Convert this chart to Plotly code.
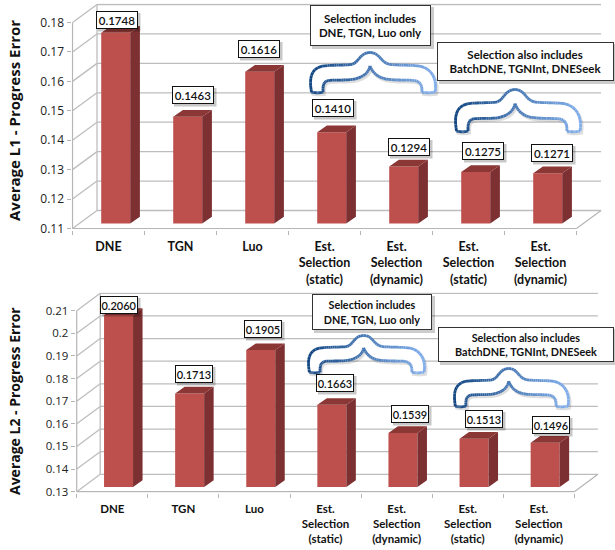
import plotly.graph_objects as go

W, H = 615, 550

# ---------- data ----------
categories = ["DNE", "TGN", "Luo",
              "Est.<br>Selection<br>(static)", "Est.<br>Selection<br>(dynamic)",
              "Est.<br>Selection<br>(static)", "Est.<br>Selection<br>(dynamic)"]
l1_values = [0.1748, 0.1463, 0.1616, 0.1410, 0.1294, 0.1275, 0.1271]
l2_values = [0.2060, 0.1713, 0.1905, 0.1663, 0.1539, 0.1513, 0.1496]
l1_labels = ["0.1748", "0.1463", "0.1616", "0.1410", "0.1294", "0.1275", "0.1271"]
l2_labels = ["0.2060", "0.1713", "0.1905", "0.1663", "0.1539", "0.1513", "0.1496"]
l1_ticks = [0.11, 0.12, 0.13, 0.14, 0.15, 0.16, 0.17, 0.18]
l2_ticks = [0.13, 0.14, 0.15, 0.16, 0.17, 0.18, 0.19, 0.20, 0.21]
l1_ticktext = ["0.11", "0.12", "0.13", "0.14", "0.15", "0.16", "0.17", "0.18"]
l2_ticktext = ["0.13", "0.14", "0.15", "0.16", "0.17", "0.18", "0.19", "0.2", "0.21"]

# ---------- styles ----------
FRONT, SIDE, TOP = "#BD4F4C", "#7C3031", "#8B3735"
GRID, EDGE = "#BDBDBD", "#B5B5B5"
TICKFONT = "Open Sans"
LABELFONT = "Lato"

fig = go.Figure()
shapes, annotations = [], []


def px_x(x):
    return x / W


def px_y(y):
    return 1 - y / H


def panel(n, values, labels, ticks, ticktext, title, g):
    xn, yn = f"x{'' if n == 1 else n}", f"y{'' if n == 1 else n}"
    xa, ya = f"xaxis{'' if n == 1 else n}", f"yaxis{'' if n == 1 else n}"
    scx = g["cat_w"]
    scy = g["unit"]
    ux = lambda p: p / scx
    uy = lambda p: p / scy
    base = ticks[0]
    top_tick = ticks[-1]
    wall_x, wall_y = ux(g["wall_dx"]), uy(g["wall_dy"])
    ncat = len(categories)
    pad = 1.0
    x_lo, x_hi = -ux(pad), ncat + wall_x + ux(pad)
    y_lo, y_hi = base - uy(pad), top_tick + wall_y + uy(pad)
    x_left_px = g["x0"] - pad
    x_right_px = g["x0"] + (ncat * scx) + g["wall_dx"] + pad
    y_bot_px = g["y0"] + pad
    y_top_px = g["y0"] - (top_tick - base) * scy - g["wall_dy"] - pad

    def line(x0, y0, x1, y1, color=GRID, width=1.3, layer="below"):
        shapes.append(dict(type="line", xref=xn, yref=yn, x0=x0, y0=y0, x1=x1, y1=y1,
                           layer=layer, line=dict(color=color, width=width)))

    # walls and floor
    for t in ticks:
        line(0, t, wall_x, t + wall_y)
        line(wall_x, t + wall_y, ncat + wall_x, t + wall_y)
    line(wall_x, base + wall_y, wall_x, top_tick + wall_y)
    line(0, base, 0, top_tick, EDGE, 1.2)
    line(0, base, ncat, base, EDGE, 1.2)
    line(ncat, base, ncat + wall_x, base + wall_y, EDGE, 1.2)

    # bars
    centers = [i + 0.5 + ux(g["bar_dx"]) for i in range(ncat)]
    half = ux(g["bar_w"]) / 2
    bot = base + uy(g["bar_dy"])
    tops = [v + uy(g["bar_dy"]) for v in values]
    fig.add_trace(go.Bar(x=centers, y=[v - base for v in values], base=bot,
                         width=ux(g["bar_w"]), marker=dict(color=FRONT, line=dict(width=0)),
                         xaxis=xn, yaxis=yn, showlegend=False,
                         customdata=labels, hovertemplate="%{customdata}<extra></extra>"))
    dxs, dys = ux(g["depth_x"]), uy(g["depth_y"])
    sx, sy, tx, ty = [], [], [], []
    for c, v in zip(centers, tops):
        r, l = c + half, c - half
        sx += [r, r + dxs, r + dxs, r, r, None]
        sy += [bot, bot + dys, v + dys, v, bot, None]
        tx += [l, r, r + dxs, l + dxs, l, None]
        ty += [v, v, v + dys, v + dys, v, None]
    for xs, ys, col in ((sx, sy, SIDE), (tx, ty, TOP)):
        fig.add_trace(go.Scatter(x=xs, y=ys, mode="lines", fill="toself", fillcolor=col,
                                 line=dict(width=0, color=col), xaxis=xn, yaxis=yn,
                                 showlegend=False, hoverinfo="skip"))

    fig.update_layout({
        xa: dict(domain=[px_x(x_left_px), px_x(x_right_px)], range=[x_lo, x_hi], anchor=yn,
                 automargin=False,
                 tickmode="array", tickvals=[i + 0.5 for i in range(ncat)], ticktext=categories,
                 ticks="", showgrid=False, zeroline=False, showline=False,
                 tickfont=dict(family=LABELFONT, size=g["xfont"], color="#111111", weight="bold"),
                 ticklabelstandoff=g["xstand"],
                 minor=dict(tickmode="array", tickvals=list(range(ncat + 1)), ticks="outside",
                            ticklen=4, tickcolor=EDGE, tickwidth=1, showgrid=False)),
        ya: dict(domain=[px_y(y_bot_px), px_y(y_top_px)], range=[y_lo, y_hi], anchor=xn,
                 automargin=False,
                 tickmode="array", tickvals=ticks, ticktext=ticktext, ticks="outside",
                 ticklen=4, tickcolor=EDGE, showgrid=False, zeroline=False, showline=False,
                 tickfont=dict(family=TICKFONT, size=g["yfont"], color="#222222")),
    })

    # value labels
    for (cx, cy), txt in zip(g["label_pos"], labels):
        bw, bh = g["label_box"]
        shapes.append(dict(type="rect", xref="paper", yref="paper", layer="above",
                           x0=px_x(cx - bw / 2 + 2), x1=px_x(cx + bw / 2 + 2.5),
                           y0=px_y(cy + bh / 2 + 2.5), y1=px_y(cy - bh / 2 + 2),
                           fillcolor="rgba(0,0,0,0.22)", line=dict(width=0)))
        annotations.append(dict(x=px_x(cx), y=px_y(cy), xref="paper", yref="paper", text=txt,
                                xanchor="center", yanchor="middle",
                                showarrow=False, bgcolor="white", bordercolor="#111111",
                                borderwidth=1, borderpad=0, width=bw - 2, height=bh - 2,
                                font=dict(family=LABELFONT, size=g["label_font"], color="#111111",
                                          weight=600)))
    # y title
    annotations.append(dict(x=px_x(g["title_x"]), y=px_y(g["title_y"]), xref="paper", yref="paper",
                            xanchor="center", yanchor="middle",
                            text=title, textangle=-90, showarrow=False,
                            font=dict(family=TICKFONT, size=g["title_font"], color="#111111",
                                      weight=700)))

    # callouts
    for (x0, y0, x1, y1), txt in zip(g["boxes"], g["box_text"]):
        shapes.append(dict(type="rect", xref="paper", yref="paper", layer="above",
                           x0=px_x(x0 + 2), x1=px_x(x1 + 3), y0=px_y(y1 + 3), y1=px_y(y0 + 2),
                           fillcolor="rgba(0,0,0,0.2)", line=dict(width=0)))
        annotations.append(dict(x=px_x((x0 + x1) / 2), y=px_y((y0 + y1) / 2), xref="paper",
                                xanchor="center", yanchor="middle",
                                yref="paper", text=txt, showarrow=False, bgcolor="white",
                                bordercolor="#333333", borderwidth=1, borderpad=0,
                                width=x1 - x0 - 2, height=y1 - y0 - 2,
                                font=dict(family=LABELFONT, size=g["box_font"], color="#111111",
                                          weight="bold")))
    for bbox in g["braces"]:
        brace(*bbox)


def bez(p0, p1, p2, p3, n=10):
    out = []
    for i in range(1, n + 1):
        t = i / n
        m = 1 - t
        out.append((m**3 * p0[0] + 3 * m*m*t * p1[0] + 3 * m*t*t * p2[0] + t**3 * p3[0],
                    m**3 * p0[1] + 3 * m*m*t * p1[1] + 3 * m*t*t * p2[1] + t**3 * p3[1]))
    return out


def brace(x0, y0, x1, y1):
    # outline of the curly brace, in unit coordinates of its bounding box
    start = (0.012, 0.98)
    segs = [
        ((0.0, 0.75), (-0.02, 0.34), (0.14, 0.33)),
        ((0.2, 0.32), (0.26, 0.32), (0.32, 0.31)),
        ((0.39, 0.30), (0.39, 0.02), (0.48, 0.01)),
        ((0.57, 0.02), (0.56, 0.30), (0.66, 0.31)),
        ((0.72, 0.32), (0.78, 0.32), (0.84, 0.33)),
        ((0.98, 0.34), (1.02, 0.7), (1.0, 0.98)),
        ((0.96, 1.0), (0.93, 1.0), (0.895, 0.98)),
        ((0.90, 0.80), (0.88, 0.70), (0.82, 0.69)),
        ((0.74, 0.68), (0.68, 0.69), (0.61, 0.66)),
        ((0.54, 0.62), (0.50, 0.50), (0.48, 0.34)),
        ((0.47, 0.50), (0.43, 0.62), (0.34, 0.67)),
        ((0.28, 0.69), (0.22, 0.68), (0.16, 0.69)),
        ((0.11, 0.70), (0.10, 0.80), (0.105, 0.98)),
        ((0.08, 1.0), (0.04, 1.0), start),
    ]
    pts = [start]
    for c1, c2, end in segs:
        pts += bez(pts[-1], c1, c2, end)
    to_px = [(x0 + u * (x1 - x0), y0 + v * (y1 - y0)) for u, v in pts]
    path = "M " + " L ".join(f"{px_x(a):.5f},{px_y(b):.5f}" for a, b in to_px) + " Z"
    shadow = "M " + " L ".join(f"{px_x(a + 1.5):.5f},{px_y(b + 2):.5f}" for a, b in to_px) + " Z"
    shapes.append(dict(type="path", xref="paper", yref="paper", path=shadow, layer="above",
                       fillcolor="rgba(0,0,0,0)", line=dict(color="rgba(0,0,0,0.13)", width=3)))
    shapes.append(dict(type="path", xref="paper", yref="paper", path=path, layer="above",
                       fillcolor="white", line=dict(width=0)))
    dark, light = (18, 70, 130), (130, 175, 235)
    for (a0, b0), (a1, b1) in zip(to_px[:-1], to_px[1:]):
        t = max(0.0, min(1.0, ((a0 + a1) / 2 - x0) / (x1 - x0)))
        col = tuple(round(d + (l - d) * t) for d, l in zip(dark, light))
        shapes.append(dict(type="line", xref="paper", yref="paper", layer="above",
                           x0=px_x(a0), y0=px_y(b0), x1=px_x(a1), y1=px_y(b1),
                           line=dict(color=f"rgb{col}", width=2.8)))


TOP_GEOM = dict(
    x0=72.5, y0=228.5, cat_w=72.0, unit=206 / 0.07, wall_dx=24.5, wall_dy=18,
    bar_dx=7.2, bar_dy=5, bar_w=29, depth_x=9.7, depth_y=6.7,
    xfont=12.5, yfont=12, xstand=8, label_font=11.5, label_box=(42, 18),
    label_pos=[(117, 20), (193, 95), (259, 49), (333, 108), (409, 147), (483, 151), (552, 153)],
    title_x=14, title_y=121, title_font=15, box_font=11.5,
    boxes=[(310, 5, 431, 46), (437, 42, 614, 81)],
    box_text=["Selection includes<br>DNE, TGN, Luo only",
              "Selection also includes<br>BatchDNE, TGNInt, DNESeek"],
    braces=[(310, 52, 435, 93), (455, 89, 580, 132)],
)
BOTTOM_GEOM = dict(
    x0=76.7, y0=491.7, cat_w=71.1, unit=181 / 0.08, wall_dx=23.5, wall_dy=17.4,
    bar_dx=6.3, bar_dy=4.7, bar_w=29, depth_x=9.5, depth_y=6.7,
    xfont=11.5, yfont=11.5, xstand=8, label_font=11, label_box=(38, 18),
    label_pos=[(119, 305), (194, 374), (263, 329), (335, 383), (410, 414), (484, 419), (551, 425)],
    title_x=14, title_y=401, title_font=14, box_font=10.8,
    boxes=[(312, 294, 432, 330), (438, 327, 614, 362)],
    box_text=["Selection includes<br>DNE, TGN, Luo only",
              "Selection also includes<br>BatchDNE, TGNInt, DNESeek"],
    braces=[(308, 335, 424, 373), (454, 368, 568, 407)],
)

panel(1, l1_values, l1_labels, l1_ticks, l1_ticktext, "Average L1 - Progress Error", TOP_GEOM)
panel(2, l2_values, l2_labels, l2_ticks, l2_ticktext, "Average L2 - Progress Error", BOTTOM_GEOM)

fig.update_layout(width=W, height=H, margin=dict(l=0, r=0, t=0, b=0), autosize=False,
                  paper_bgcolor="white", plot_bgcolor="white", showlegend=False,
                  barmode="overlay", shapes=shapes, annotations=annotations)

fig.write_html("out.html", config=dict(displayModeBar=False),
               post_script="document.body.style.margin='0';document.body.style.overflow='hidden';")
